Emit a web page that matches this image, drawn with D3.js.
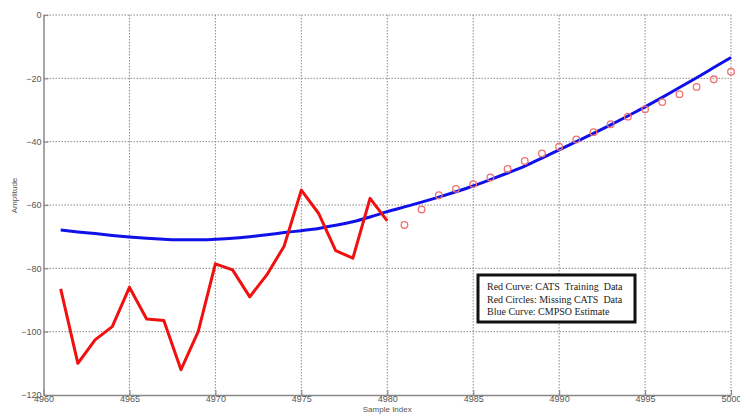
<!DOCTYPE html>
<html>
<head>
<meta charset="utf-8">
<script src="https://cdn.jsdelivr.net/npm/d3@7"></script>
<style>
  body { margin: 0; background: #fff; }
  svg { display: block; }
</style>
</head>
<body>
<script>
var w = 740;
var h = 415;

// red curve: training data
var trainIdx = [4961, 4962, 4963, 4964, 4965, 4966, 4967, 4968, 4969, 4970,
                4971, 4972, 4973, 4974, 4975, 4976, 4977, 4978, 4979, 4980];
var trainVal = [-86.5, -110, -102.6, -98.4, -86, -96, -96.5, -112, -100, -78.6,
                -80.5, -89, -82, -73, -55.3, -62.6, -74.4, -76.8, -57.9, -65];

// red circles: missing data
var missIdx = [4981, 4982, 4983, 4984, 4985, 4986, 4987, 4988, 4989, 4990,
               4991, 4992, 4993, 4994, 4995, 4996, 4997, 4998, 4999, 5000];
var missVal = [-66.3, -61.4, -56.9, -54.9, -53.4, -51.3, -48.6, -46.1, -43.7, -41.6,
               -39.3, -37, -34.5, -32.1, -29.8, -27.5, -25, -22.7, -20.3, -17.9];

// blue curve: estimate
var estIdx = d3.range(4961, 5001);
var estVal = [-67.9, -68.5, -69.0, -69.6, -70.1, -70.5, -70.8, -71.0, -71.0, -70.8,
              -70.5, -70.0, -69.4, -68.7, -68.1, -67.4, -66.4, -65.3, -63.8, -62.1,
              -60.6, -59.1, -57.5, -55.8, -54.0, -52.0, -49.9, -47.7, -45.2, -42.6,
              -40.0, -37.4, -34.7, -31.9, -29.0, -26.0, -22.9, -19.8, -16.6, -13.4];

var xTicks = [4960, 4965, 4970, 4975, 4980, 4985, 4990, 4995, 5000];
var yTicks = [0, -20, -40, -60, -80, -100, -120];
var legendLines = ["Red Curve: CATS  Training  Data",
                   "Red Circles: Missing CATS  Data",
                   "Blue Curve: CMPSO Estimate"];

var m = {left: 43.5, right: 9, top: 15, bottom: 20};

var svg = d3.select("body").append("svg")
    .attr("width", w)
    .attr("height", h);

var x = d3.scaleLinear().domain([4960, 5000]).range([m.left, w - m.right]);
var y = d3.scaleLinear().domain([-120, 0]).range([h - m.bottom, m.top]);

// dotted grid
svg.append("g").selectAll("line")
  .data(xTicks.slice(1))
  .enter().append("line")
  .attr("x1", function(d) { return x(d); })
  .attr("x2", function(d) { return x(d); })
  .attr("y1", y(0))
  .attr("y2", y(-120))
  .attr("stroke", "#8a8a8a")
  .attr("stroke-width", 1)
  .attr("stroke-dasharray", "1.5,1.5");

svg.append("g").selectAll("line")
  .data(yTicks.slice(0, -1))
  .enter().append("line")
  .attr("x1", x(4960))
  .attr("x2", x(5000))
  .attr("y1", function(d) { return y(d); })
  .attr("y2", function(d) { return y(d); })
  .attr("stroke", "#8a8a8a")
  .attr("stroke-width", 1)
  .attr("stroke-dasharray", "1.5,1.5");

// axes
var xAxis = svg.append("g")
  .attr("transform", "translate(0," + y(-120) + ")")
  .call(d3.axisBottom(x).tickValues(xTicks).tickFormat(d3.format("d"))
    .tickSizeInner(-5).tickSizeOuter(0).tickPadding(2));
var yAxis = svg.append("g")
  .attr("transform", "translate(" + x(4960) + ",0)")
  .call(d3.axisLeft(y).tickValues(yTicks).tickFormat(d3.format("d"))
    .tickSizeInner(-5).tickSizeOuter(0).tickPadding(2));

[xAxis, yAxis].forEach(function(a) {
  a.select(".domain").attr("stroke", "#888").attr("stroke-width", 1.5);
  a.selectAll(".tick line").attr("stroke", "#888").attr("stroke-width", 1.2);
  a.selectAll("text")
    .attr("fill", "#555")
    .attr("font-family", "Liberation Sans, Arial, sans-serif")
    .attr("font-size", "9px");
});
xAxis.selectAll("text").attr("dy", "0.55em");

svg.append("text")
  .attr("x", (x(4960) + x(5000)) / 2)
  .attr("y", 412)
  .attr("text-anchor", "middle")
  .attr("font-family", "Liberation Sans, Arial, sans-serif")
  .attr("font-size", "8px")
  .attr("fill", "#555")
  .text("Sample Index");

svg.append("text")
  .attr("transform", "translate(17," + y(-57) + ") rotate(-90)")
  .attr("text-anchor", "middle")
  .attr("font-family", "Liberation Sans, Arial, sans-serif")
  .attr("font-size", "8px")
  .attr("fill", "#555")
  .text("Amplitude");

// blue estimate
var est = estIdx.map(function(d, i) { return [d, estVal[i]]; });
svg.append("path")
  .datum(est)
  .attr("fill", "none")
  .attr("stroke", "#1010e8")
  .attr("stroke-width", 3)
  .attr("d", d3.line().curve(d3.curveMonotoneX)
    .x(function(d) { return x(d[0]); })
    .y(function(d) { return y(d[1]); }));

// red training curve
var train = trainIdx.map(function(d, i) { return [d, trainVal[i]]; });
svg.append("path")
  .datum(train)
  .attr("fill", "none")
  .attr("stroke", "#f01010")
  .attr("stroke-width", 3)
  .attr("stroke-linejoin", "round")
  .attr("d", d3.line()
    .x(function(d) { return x(d[0]); })
    .y(function(d) { return y(d[1]); }));

// red circles
svg.append("g").selectAll("circle")
  .data(missIdx)
  .enter().append("circle")
  .attr("cx", function(d) { return x(d); })
  .attr("cy", function(d, i) { return y(missVal[i]); })
  .attr("r", 3.3)
  .attr("fill", "none")
  .attr("stroke", "#f07070")
  .attr("stroke-width", 1.3);

// legend box
var lg = svg.append("g").attr("transform", "translate(478,275)");
lg.append("rect")
  .attr("width", 157)
  .attr("height", 47)
  .attr("fill", "#fff")
  .attr("stroke", "#111")
  .attr("stroke-width", 3);
lg.selectAll("text")
  .data(legendLines)
  .enter().append("text")
  .attr("x", 9)
  .attr("y", function(d, i) { return 15 + i * 12.5; })
  .attr("font-family", "Liberation Serif, Times New Roman, serif")
  .attr("font-size", "10px")
  .attr("fill", "#222")
  .style("white-space", "pre")
  .text(function(d) { return d; });
</script>
</body>
</html>
